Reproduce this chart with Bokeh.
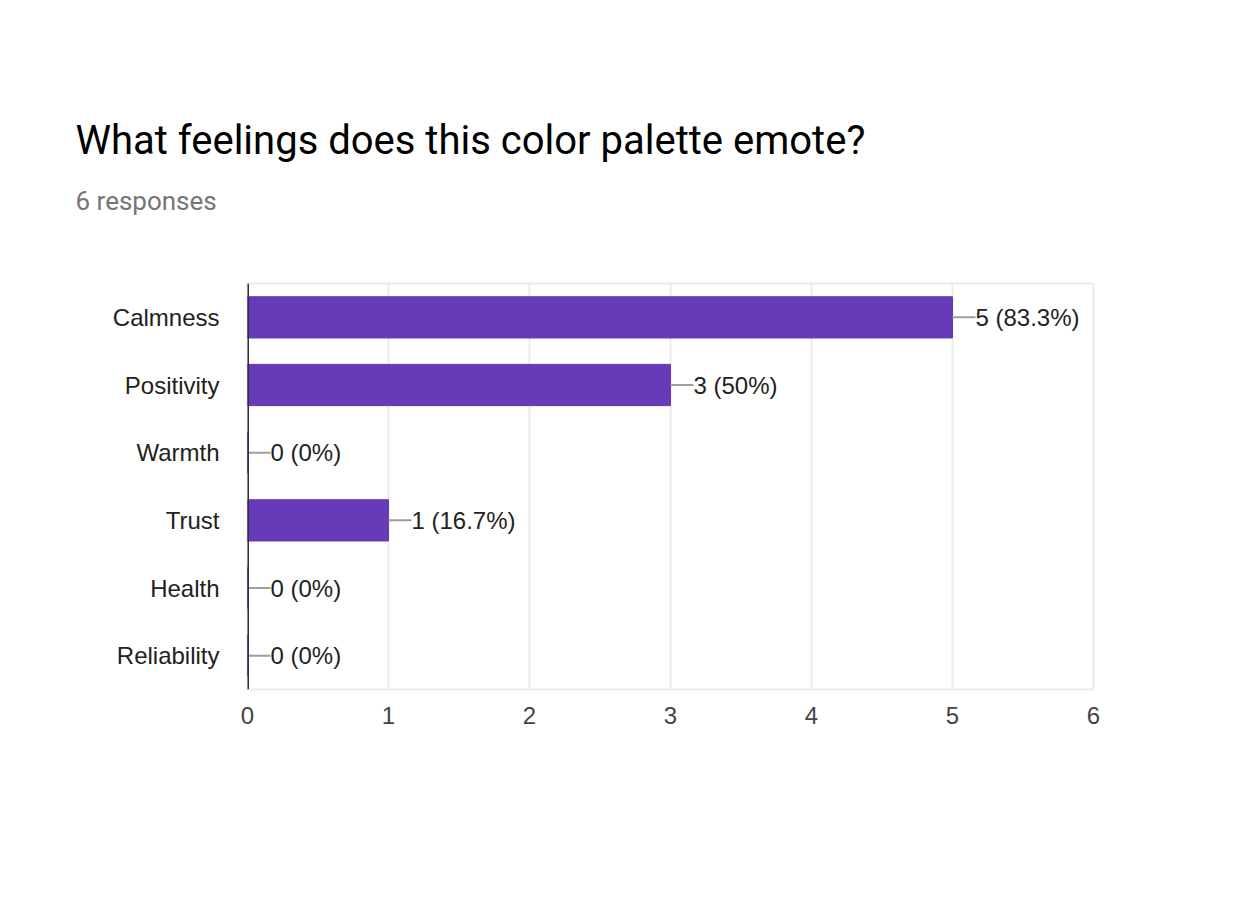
from bokeh.plotting import figure
from bokeh.models import FactorRange, Range1d, Title, ColumnDataSource, FixedTicker, Span
from bokeh.core.properties import value
from bokeh.embed import file_html
from bokeh.resources import INLINE

title_text = "What feelings does this color palette emote?"
subtitle_text = "6 responses"
categories = ["Calmness", "Positivity", "Warmth", "Trust", "Health", "Reliability"]
counts = [5, 3, 0, 1, 0, 0]
total_responses = 6
x_ticks = [0, 1, 2, 3, 4, 5, 6]

labels = []
for c in counts:
    pct = c / total_responses * 100
    s = f"{pct:.1f}".rstrip("0").rstrip(".")
    labels.append(f"{c} ({s}%)")

px_per_unit = (1093 - 247) / 6.0
lead = 23 / px_per_unit
src = ColumnDataSource(dict(cat=categories, val=counts, lab=labels,
                            lead_end=[v + lead for v in counts]))

p = figure(width=1258, height=904, output_backend="svg", toolbar_location=None,
           y_range=FactorRange(factors=categories[::-1]), x_range=Range1d(0, 6),
           min_border_left=247, min_border_right=165, min_border_top=283, min_border_bottom=215)

p.add_layout(Title(text=subtitle_text, text_font_size="26px", text_font="Roboto",
                   text_color="#757575", text_font_style="normal", align="left", offset=-172,
                   standoff=136), "above")
p.add_layout(Title(text=title_text, text_font_size="40px",
                   text_font="Roboto", text_color="#000000", text_font_style="normal",
                   align="left", offset=-172, standoff=-96), "above")

p.hbar(y="cat", right="val", left=0, height=0.61, source=src, color="#673AB7")
p.segment(x0="val", x1="lead_end", y0="cat", y1="cat", source=src, line_color="#9e9e9e", line_width=2)
p.text(x="lead_end", y="cat", text="lab", source=src, text_font=value("Liberation Sans"),
       text_font_size="24px", text_color="#222222", text_baseline="middle", x_offset=0)

p.add_layout(Span(location=0, dimension="height", line_color="#333333", line_width=3, level="overlay"))

p.outline_line_color = "#ebebeb"
p.outline_line_width = 2
p.xgrid.ticker = FixedTicker(ticks=x_ticks)
p.xgrid.grid_line_color = "#ebebeb"
p.xgrid.grid_line_width = 2
p.ygrid.grid_line_color = None
p.xaxis.ticker = FixedTicker(ticks=x_ticks)
for ax in (p.xaxis, p.yaxis):
    ax.axis_line_color = None
    ax.major_tick_line_color = None
    ax.minor_tick_line_color = None
    ax.major_label_text_font = "Liberation Sans"
    ax.major_label_text_font_size = "24px"
p.xaxis.major_label_text_color = "#444444"
p.yaxis.major_label_text_color = "#222222"
p.xaxis.major_label_standoff = 11
p.yaxis.major_label_standoff = 22
p.background_fill_color = "white"
p.border_fill_color = "white"

open("out.html", "w").write(file_html(p, INLINE))
